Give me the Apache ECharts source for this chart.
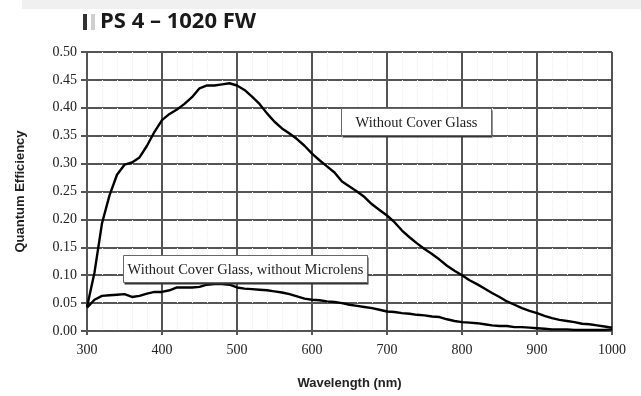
<!DOCTYPE html>
<html>
<head>
<meta charset="utf-8">
<script src="https://cdn.jsdelivr.net/npm/echarts@6/dist/echarts.min.js"></script>
<style>html,body{margin:0;padding:0;background:#fff}#c{width:641px;height:396px}</style>
</head>
<body>
<div id="c"></div>
<script>
const wavelengths = [300,310,320,330,340,350,360,370,380,390,400,410,420,430,440,450,460,470,480,490,500,510,520,530,540,550,560,570,580,590,600,610,620,630,640,650,660,670,680,690,700,710,720,730,740,750,760,770,780,790,800,810,820,830,840,850,860,870,880,890,900,910,920,930,940,950,960,970,980,990,1000];
const qeWithoutCoverGlass = [0.043,0.105,0.193,0.243,0.280,0.298,0.302,0.311,0.332,0.357,0.378,0.389,0.397,0.407,0.419,0.435,0.440,0.440,0.442,0.444,0.440,0.432,0.420,0.407,0.390,0.375,0.363,0.354,0.344,0.332,0.318,0.306,0.295,0.284,0.268,0.259,0.250,0.240,0.227,0.217,0.207,0.195,0.180,0.168,0.157,0.147,0.138,0.128,0.117,0.108,0.100,0.091,0.084,0.076,0.068,0.061,0.053,0.047,0.041,0.036,0.032,0.027,0.023,0.020,0.018,0.016,0.013,0.012,0.010,0.008,0.006];
const qeWithoutMicrolens = [0.042,0.056,0.063,0.064,0.065,0.066,0.061,0.063,0.067,0.070,0.070,0.073,0.078,0.078,0.078,0.079,0.083,0.084,0.084,0.083,0.078,0.076,0.075,0.074,0.073,0.071,0.069,0.066,0.062,0.058,0.056,0.055,0.053,0.052,0.050,0.047,0.045,0.043,0.041,0.038,0.035,0.034,0.032,0.031,0.029,0.028,0.026,0.025,0.021,0.018,0.016,0.015,0.014,0.012,0.010,0.009,0.009,0.007,0.007,0.006,0.005,0.004,0.003,0.003,0.003,0.002,0.002,0.002,0.002,0.002,0.003];
const titleText = "PS 4 – 1020 FW";
const label1 = "Without Cover Glass";
const label2 = "Without Cover Glass, without Microlens";
const xName = "Wavelength (nm)";
const yName = "Quantum Efficiency";

const chart = echarts.init(document.getElementById('c'), null, {renderer:'canvas'});
const serif = '"Liberation Serif","Times New Roman",serif';
const sans = '"Liberation Sans",Arial,sans-serif';
const gridColor = '#555';

function box(x, y, w, h, text) {
  return {
    type: 'group', left: x, top: y, z: 100,
    children: [
      {type:'rect', z: 100, shape:{x:1,y:2,width:w,height:h}, style:{fill:'#333'}},
      {type:'rect', z: 101, shape:{x:0,y:0,width:w,height:h},
       style:{fill:'#fff', stroke:'#666', lineWidth:1}},
      {type:'text', z: 102, x: w/2, y: h/2 + 1,
       style:{text:text, fill:'#222', font:'14.5px ' + serif, align:'center', verticalAlign:'middle'}}
    ]
  };
}

chart.setOption({
  animation: false,
  grid: {left: 87, right: 29, top: 52, bottom: 65},
  xAxis: {
    type: 'value', min: 300, max: 1000, interval: 100,
    name: xName, nameLocation: 'middle', nameGap: 46,
    nameTextStyle: {fontFamily: sans, fontWeight: 'bold', fontSize: 13, color: '#222'},
    axisLine: {show: true, lineStyle: {color: gridColor, width: 2}},
    axisTick: {show: true, length: 4, lineStyle: {color: gridColor, width: 2}},
    axisLabel: {fontFamily: serif, fontSize: 14, color: '#222', margin: 12, formatter: v => String(v)},
    splitLine: {show: true, lineStyle: {color: gridColor, width: 2}},
    minorTick: {show: false, splitNumber: 5},
    minorSplitLine: {show: true, lineStyle: {color: '#eeeeee', width: 1, type: 'dotted'}}
  },
  yAxis: {
    type: 'value', min: 0, max: 0.5, interval: 0.05,
    name: yName, nameLocation: 'middle', nameGap: 60, nameRotate: 90,
    nameTextStyle: {fontFamily: sans, fontWeight: 'bold', fontSize: 13, color: '#222'},
    axisLine: {show: true, lineStyle: {color: gridColor, width: 2}},
    axisTick: {show: true, length: 6, lineStyle: {color: gridColor, width: 2}},
    axisLabel: {fontFamily: serif, fontSize: 14, color: '#222', margin: 10, formatter: v => v.toFixed(2)},
    splitLine: {show: true, lineStyle: {color: gridColor, width: 2}}
  },
  series: [
    {type: 'line', data: wavelengths.map((w, i) => [w, qeWithoutCoverGlass[i]]), showSymbol: false, symbol: 'none',
     lineStyle: {color: '#000', width: 2.4}, z: 5},
    {type: 'line', data: wavelengths.map((w, i) => [w, qeWithoutMicrolens[i]]), showSymbol: false, symbol: 'none',
     lineStyle: {color: '#000', width: 2.4}, z: 5}
  ],
  graphic: [
    {type:'rect', left: 22, top: 0, z: 100, shape:{width: 619, height: 9}, style:{fill:'#f0f0f0'}},
    {type:'rect', left: 83, top: 14, z: 100, shape:{width: 4, height: 16}, style:{fill:'#333'}},
    {type:'rect', left: 91, top: 14, z: 100, shape:{width: 4, height: 16}, style:{fill:'#cfcfcf'}},
    {type:'text', left: 100, top: 11, z: 100, style:{text: titleText, fill:'#1a1a1a', font:'bold 22px "Open Sans","Liberation Sans",sans-serif'}},
    box(341, 108, 150, 27, label1),
    box(123, 255, 244, 27, label2)
  ]
});
</script>
</body>
</html>
